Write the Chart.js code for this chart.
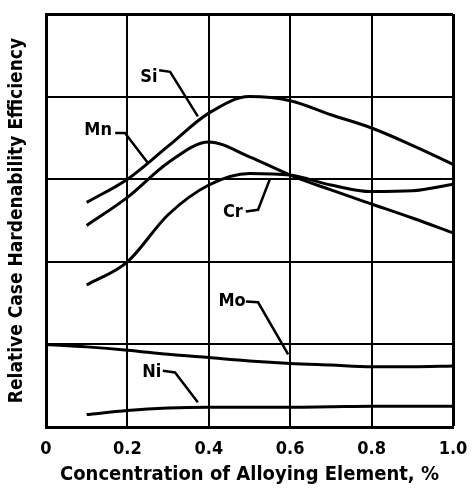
<!DOCTYPE html>
<html lang="en">
<head>
    <meta charset="UTF-8">
    <title>Relative Case Hardenability Efficiency</title>
    <script src="https://cdn.jsdelivr.net/npm/chart.js"></script>
    <style>
        body {
            margin: 0;
            padding: 0;
            background: #fff;
        }
        .chart-container {
            width: 475px;
            height: 495px;
        }
    </style>
</head>
<body>
    <div class="chart-container">
        <canvas id="chart"></canvas>
    </div>

    <script>
        // Concentration (%) and curve values (grid units 0..5)
        const conc = [0.1, 0.2, 0.3, 0.4, 0.5, 0.6, 0.7, 0.8, 0.9, 1.0];
        const moConc = [0, 0.1, 0.2, 0.3, 0.4, 0.5, 0.6, 0.7, 0.8, 0.9, 1.0];

        const si = [2.72, 3.0, 3.4, 3.8, 4.0, 3.95, 3.78, 3.62, 3.41, 3.18];
        const mn = [2.44, 2.78, 3.2, 3.45, 3.27, 3.05, 2.87, 2.7, 2.53, 2.35];
        const cr = [1.72, 2.0, 2.57, 2.93, 3.07, 3.05, 2.93, 2.85, 2.86, 2.94];
        const mo = [1.0, 0.97, 0.93, 0.88, 0.84, 0.8, 0.77, 0.75, 0.73, 0.73, 0.74];
        const ni = [0.15, 0.2, 0.23, 0.24, 0.24, 0.24, 0.245, 0.25, 0.25, 0.25];

        const xTicks = [0, 0.2, 0.4, 0.6, 0.8, 1.0];

        // curve name labels: text position and leader line (data units)
        const labelNames = ['Si', 'Mn', 'Cr', 'Mo', 'Ni'];
        const labelPos = [[0.253, 4.23], [0.128, 3.59], [0.459, 2.6], [0.457, 1.52], [0.26, 0.66]];
        const leaders = [
            [[0.278, 4.32], [0.305, 4.3], [0.373, 3.76]],
            [[0.17, 3.56], [0.194, 3.56], [0.25, 3.2]],
            [[0.491, 2.61], [0.521, 2.63], [0.55, 3.0]],
            [[0.491, 1.52], [0.521, 1.51], [0.595, 0.88]],
            [[0.287, 0.68], [0.317, 0.66], [0.373, 0.3]]
        ];

        const FONT = '"DejaVu Sans Condensed", "Liberation Sans Narrow", sans-serif';

        const toPoints = (xs, ys) => ys.map((y, i) => ({ x: xs[i], y }));

        const curve = (label, xs, ys) => ({
            label,
            data: toPoints(xs, ys),
            borderColor: '#000',
            borderWidth: 3,
            pointRadius: 0,
            fill: false,
            cubicInterpolationMode: 'monotone'
        });

        const labelPlugin = {
            id: 'curveLabels',
            afterDatasetsDraw(chart) {
                const { ctx, scales: { x, y } } = chart;
                ctx.save();
                ctx.fillStyle = '#000';
                ctx.strokeStyle = '#000';
                ctx.lineWidth = 2.5;
                ctx.font = 'bold 18px ' + FONT;
                ctx.textAlign = 'center';
                ctx.textBaseline = 'middle';
                labelNames.forEach((name, i) => {
                    ctx.fillText(name, x.getPixelForValue(labelPos[i][0]), y.getPixelForValue(labelPos[i][1]));
                    ctx.beginPath();
                    leaders[i].forEach((p, j) => {
                        const px = x.getPixelForValue(p[0]);
                        const py = y.getPixelForValue(p[1]);
                        if (j === 0) ctx.moveTo(px, py); else ctx.lineTo(px, py);
                    });
                    ctx.stroke();
                });
                ctx.restore();
            }
        };

        const ctx = document.getElementById('chart').getContext('2d');
        new Chart(ctx, {
            type: 'line',
            data: {
                datasets: [
                    curve('Si', conc, si),
                    curve('Mn', conc, mn),
                    curve('Cr', conc, cr),
                    curve('Mo', moConc, mo),
                    curve('Ni', conc, ni)
                ]
            },
            options: {
                responsive: true,
                maintainAspectRatio: false,
                animation: false,
                layout: {
                    padding: { left: 6, right: 22, top: 14, bottom: 8 }
                },
                plugins: {
                    legend: { display: false },
                    tooltip: { enabled: false }
                },
                scales: {
                    x: {
                        type: 'linear',
                        min: 0,
                        max: 1,
                        afterBuildTicks: scale => {
                            scale.ticks = xTicks.map(v => ({ value: v }));
                        },
                        ticks: {
                            color: '#000',
                            padding: 12,
                            maxRotation: 0,
                            font: { family: FONT, size: 18, weight: 'bold' },
                            callback: v => (v === 0 ? '0' : v.toFixed(1))
                        },
                        grid: {
                            color: '#000',
                            lineWidth: c => (c.tick && c.tick.value === 1 ? 3 : 2),
                            drawTicks: false
                        },
                        border: { color: '#000', width: 3 },
                        title: {
                            display: true,
                            text: 'Concentration of Alloying Element, %',
                            color: '#000',
                            padding: { top: 0, bottom: 0 },
                            font: { family: FONT, size: 20, weight: 'bold' }
                        },
                        afterFit: scale => {
                            scale.height = 60;
                            scale.paddingRight = 0;
                            scale.paddingLeft = 0;
                        }
                    },
                    y: {
                        type: 'linear',
                        min: 0,
                        max: 5,
                        ticks: { display: false, stepSize: 1 },
                        grid: {
                            color: '#000',
                            lineWidth: c => (c.tick && c.tick.value === 5 ? 3 : 2),
                            drawTicks: false
                        },
                        border: { color: '#000', width: 3 },
                        title: {
                            display: true,
                            text: 'Relative Case Hardenability Efficiency',
                            color: '#000',
                            padding: { top: 0, bottom: 8 },
                            font: { family: FONT, size: 19, weight: 'bold' }
                        },
                        afterFit: scale => {
                            scale.width = 40;
                        }
                    }
                }
            },
            plugins: [labelPlugin]
        });
    </script>
</body>
</html>
